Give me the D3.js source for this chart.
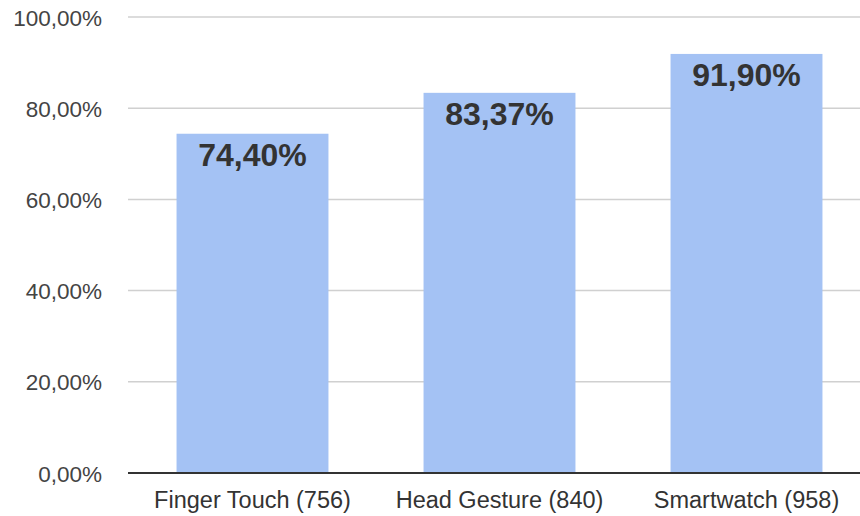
<!DOCTYPE html>
<html><head><meta charset="utf-8">
<script src="https://cdn.jsdelivr.net/npm/d3@7"></script>
<style>body{margin:0;background:#fff}svg{display:block}</style>
</head><body>
<svg id="c" width="860" height="516"></svg>
<script>
const categories = ["Finger Touch (756)", "Head Gesture (840)", "Smartwatch (958)"];
const values = [74.40, 83.37, 91.90];
const yTicks = [0, 20, 40, 60, 80, 100];

const svg = d3.select("#c");
const font = "Liberation Sans, Arial, Helvetica, sans-serif";
const x = d3.scaleBand().domain(categories).range([129, 870]).paddingInner(0.385).paddingOuter(0.1925);
const y = d3.scaleLinear().domain([0, 100]).range([473, 17]);
const fmt = v => v.toFixed(2).replace(".", ",") + "%";

// gridlines
svg.append("g").selectAll("line").data(yTicks.filter(t => t > 0)).join("line")
  .attr("x1", 128).attr("x2", 860)
  .attr("y1", d => y(d)).attr("y2", d => y(d))
  .attr("stroke", "#d0d0d0").attr("stroke-width", 1.5);

// y axis labels
const yAxis = d3.axisLeft(y).tickValues(yTicks).tickFormat(fmt).tickSize(0).tickPadding(0);
const ya = svg.append("g").attr("transform", "translate(102,0)").call(yAxis);
ya.select(".domain").remove();
ya.selectAll("text").attr("font-family", font).attr("font-size", 22.5).attr("fill", "#444").attr("dy", "0.36em");

// bars
svg.append("g").selectAll("rect").data(values).join("rect")
  .attr("x", (d, i) => x(categories[i]))
  .attr("width", x.bandwidth())
  .attr("y", d => y(d))
  .attr("height", d => y(0) - y(d))
  .attr("fill", "#a4c2f4");

// baseline
svg.append("line").attr("x1", 128).attr("x2", 860).attr("y1", y(0)).attr("y2", y(0))
  .attr("stroke", "#333").attr("stroke-width", 2);

// x axis labels
const xAxis = d3.axisBottom(x).tickSize(0).tickPadding(0);
const xa = svg.append("g").attr("transform", `translate(0,${y(0)})`).call(xAxis);
xa.select(".domain").remove();
xa.selectAll("text").attr("font-family", font).attr("font-size", 23.5).attr("fill", "#333").attr("dy", null).attr("y", 35);

// value labels
svg.append("g").selectAll("text").data(values).join("text")
  .attr("x", (d, i) => x(categories[i]) + x.bandwidth() / 2)
  .attr("y", d => y(d) + 32)
  .attr("text-anchor", "middle")
  .attr("font-family", font).attr("font-weight", "bold").attr("font-size", 32)
  .attr("fill", "#333")
  .text(fmt);
</script>
</body></html>
